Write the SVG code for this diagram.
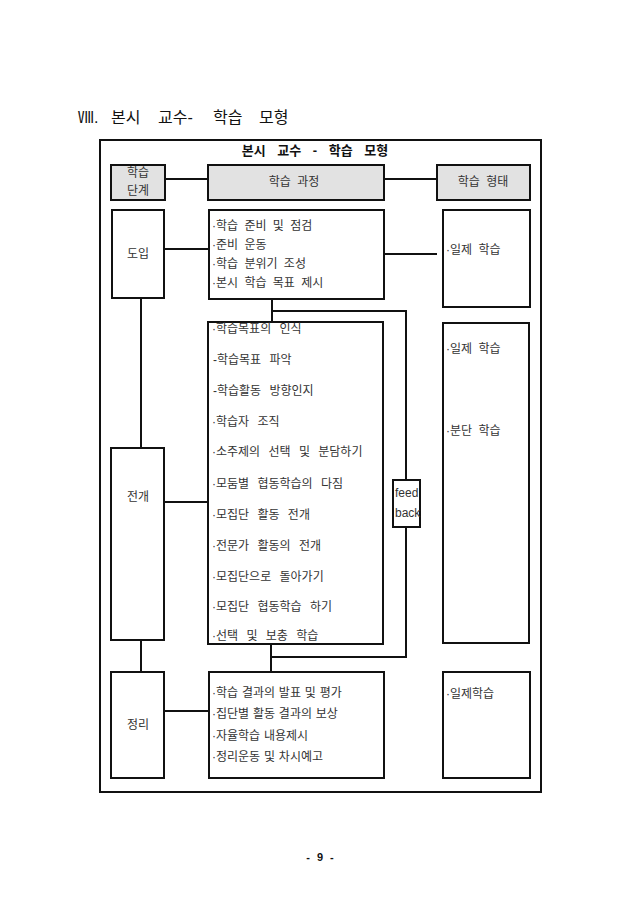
<svg xmlns="http://www.w3.org/2000/svg" width="640" height="905" viewBox="0 0 640 905">
<style>
text{font-family:"Liberation Sans","Noto Sans CJK KR",sans-serif;fill:#333;font-size:12px}
.box{fill:#fff;stroke:#111;stroke-width:2}
.hdr{fill:#e2e2e2;stroke:#111;stroke-width:2}
.ln{fill:none;stroke:#111;stroke-width:2}
.c{text-anchor:middle}
.w3{word-spacing:3px}
.w5{word-spacing:5px}
.w0{word-spacing:0.5px}
</style>
<rect width="640" height="905" fill="#fff"/>
<text y="123" style="font-size:16px;fill:#111"><tspan x="78">Ⅷ.</tspan><tspan x="111">본시</tspan><tspan x="158">교수-</tspan><tspan x="213">학습</tspan><tspan x="259">모형</tspan></text>
<rect x="100" y="140" width="441" height="652" class="box"/>
<text x="315" y="155" class="c" style="font-size:13px;font-weight:bold;word-spacing:8px;fill:#111">본시 교수 - 학습 모형</text>
<g id="connectors">
<line x1="165" y1="179" x2="208" y2="179" class="ln"/>
<line x1="384" y1="179" x2="437" y2="179" class="ln"/>
<line x1="164" y1="249" x2="209" y2="249" class="ln"/>
<line x1="384" y1="254" x2="437" y2="254" class="ln"/>
<line x1="141" y1="298" x2="141" y2="448" class="ln"/>
<line x1="141" y1="640" x2="141" y2="672" class="ln"/>
<line x1="164" y1="502" x2="208" y2="502" class="ln"/>
<line x1="164" y1="711" x2="209" y2="711" class="ln"/>
<line x1="272" y1="299" x2="272" y2="322" class="ln"/>
<polyline points="272,311 406,311 406,480" class="ln"/>
<polyline points="406,527 406,657 271,657" class="ln"/>
<line x1="271" y1="644" x2="271" y2="672" class="ln"/>
</g>
<g id="hdr-stage"><rect x="111" y="165" width="54" height="35" class="hdr"/><text x="138" y="177" class="c">학습</text><text x="138" y="195" class="c">단계</text></g>
<g id="hdr-process"><rect x="208" y="165" width="176" height="35" class="hdr"/><text x="294" y="186" class="c w3">학습 과정</text></g>
<g id="hdr-form"><rect x="437" y="165" width="93" height="35" class="hdr"/><text x="483" y="186" class="c w3">학습 형태</text></g>
<g id="intro"><rect x="112" y="210" width="52" height="88" class="box"/><text x="138" y="258" class="c">도입</text></g>
<g id="intro-process" class="w3"><rect x="209" y="210" width="175" height="89" class="box"/>
<text x="212" y="230">·학습 준비 및 점검</text><text x="212" y="249">·준비 운동</text><text x="212" y="268">·학습 분위기 조성</text><text x="212" y="287">·본시 학습 목표 제시</text></g>
<g id="intro-form"><rect x="443" y="210" width="87" height="97" class="box"/><text x="446" y="254" class="w3">·일제 학습</text></g>
<g id="dev"><rect x="111" y="448" width="53" height="192" class="box"/><text x="138" y="501" class="c">전개</text></g>
<g id="dev-process" class="w5"><rect x="208" y="322" width="175" height="322" class="box"/>
<text x="212" y="333">·학습목표의 인식</text>
<text x="213" y="364">-학습목표 파악</text>
<text x="213" y="395">-학습활동 방향인지</text>
<text x="212" y="426">·학습자 조직</text>
<text x="212" y="456">·소주제의 선택 및 분담하기</text>
<text x="212" y="488">·모둠별 협동학습의 다짐</text>
<text x="212" y="519">·모집단 활동 전개</text>
<text x="212" y="550">·전문가 활동의 전개</text>
<text x="212" y="581">·모집단으로 돌아가기</text>
<text x="212" y="611">·모집단 협동학습 하기</text>
<text x="212" y="640">·선택 및  보충 학습</text></g>
<g id="feedback"><rect x="393" y="480" width="27" height="47" class="box"/><text x="395" y="497">feed</text><text x="395" y="517">back</text></g>
<g id="dev-form" class="w3"><rect x="443" y="323" width="86" height="320" class="box"/><text x="446" y="353">·일제 학습</text><text x="446" y="435">·분단 학습</text></g>
<g id="close"><rect x="111" y="672" width="53" height="106" class="box"/><text x="138" y="729" class="c">정리</text></g>
<g id="close-process" class="w0"><rect x="209" y="672" width="175" height="106" class="box"/>
<text x="212" y="697">·학습 결과의 발표 및 평가</text><text x="212" y="718">·집단별 활동 결과의 보상</text><text x="212" y="740">·자율학습 내용제시</text><text x="212" y="761">·정리운동 및 차시예고</text></g>
<g id="close-form"><rect x="443" y="672" width="87" height="106" class="box"/><text x="446" y="698">·일제학습</text></g>
<text x="320" y="861" class="c" style="font-size:11px;font-weight:bold;word-spacing:4px;fill:#111">- 9 -</text>
</svg>
